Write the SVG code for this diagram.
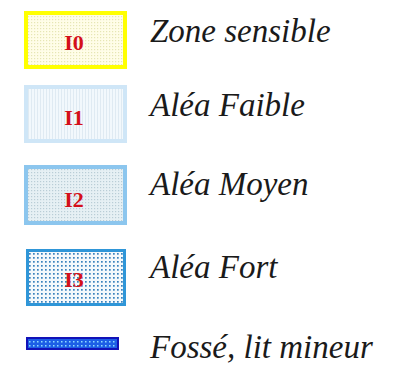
<svg xmlns="http://www.w3.org/2000/svg" width="398" height="372" viewBox="0 0 398 372">
  <defs>
    <pattern id="p0" width="3" height="3" patternUnits="userSpaceOnUse">
      <rect width="3" height="3" fill="#fffde8"/>
      <rect x="1" y="1" width="1.2" height="1.2" fill="#e6e6b4"/>
    </pattern>
    <pattern id="p1" width="3" height="3" patternUnits="userSpaceOnUse">
      <rect width="3" height="3" fill="#f2f8fc"/>
      <rect x="1" y="0" width="1" height="3" fill="#dfeaf2"/>
    </pattern>
    <pattern id="p2" width="3" height="3" patternUnits="userSpaceOnUse">
      <rect width="3" height="3" fill="#e6f0f4"/>
      <rect x="1" y="1" width="1.2" height="1.2" fill="#b9cdd6"/>
    </pattern>
    <pattern id="p3" width="4" height="4" patternUnits="userSpaceOnUse">
      <rect width="4" height="4" fill="#f4f9fc"/>
      <rect x="1" y="1" width="1.7" height="1.7" fill="#3a82bd"/>
    </pattern>
    <pattern id="p4" width="4" height="4" patternUnits="userSpaceOnUse">
      <rect width="4" height="4" fill="#1d5fe6"/>
      <rect x="1" y="1" width="1.5" height="1.5" fill="#8fdcff"/>
    </pattern>
  </defs>
  <style>
    .code { font-family: "Liberation Serif", "Times New Roman", serif; font-weight: bold; font-size: 22px; fill: #d4101a; text-anchor: middle; }
    .lbl { font-family: "Liberation Serif", "Times New Roman", serif; font-style: italic; font-size: 33px; fill: #1a1a1a; }
  </style>
  <rect width="398" height="372" fill="#ffffff"/>
  <g id="I0">
    <rect x="26" y="13" width="99" height="54" fill="url(#p0)" stroke="#ffff00" stroke-width="4"/>
    <text class="code" x="74" y="50">I0</text>
    <text class="lbl" x="150" y="42">Zone sensible</text>
  </g>
  <g id="I1">
    <rect x="26" y="87" width="99" height="54" fill="url(#p1)" stroke="#cfe6f7" stroke-width="4"/>
    <text class="code" x="74" y="125">I1</text>
    <text class="lbl" x="150" y="116">Aléa Faible</text>
  </g>
  <g id="I2">
    <rect x="26" y="167" width="99" height="56" fill="url(#p2)" stroke="#8cc6ee" stroke-width="4"/>
    <text class="code" x="74" y="207">I2</text>
    <text class="lbl" x="150" y="195">Aléa Moyen</text>
  </g>
  <g id="I3">
    <rect x="27.5" y="250.5" width="97" height="54" fill="url(#p3)" stroke="#2f96d8" stroke-width="3"/>
    <text class="code" x="74" y="287">I3</text>
    <text class="lbl" x="150" y="278">Aléa Fort</text>
  </g>
  <g id="fosse">
    <rect x="27" y="338" width="91" height="11" fill="url(#p4)" stroke="#1212b8" stroke-width="2"/>
    <text class="lbl" x="150" y="358">Fossé, lit mineur</text>
  </g>
  <g id="connectors"/>
</svg>
